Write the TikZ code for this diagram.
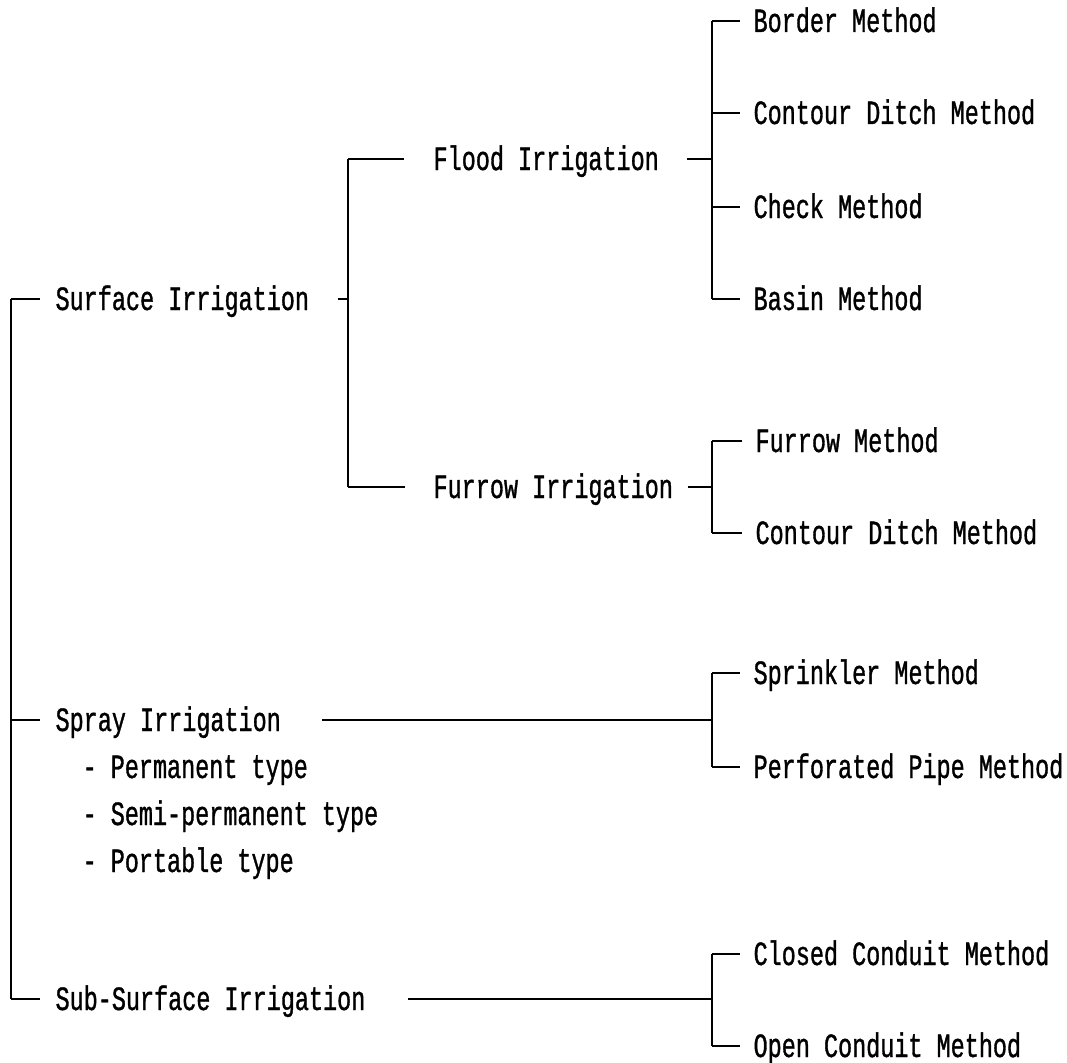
\documentclass[tikz,border=0pt]{standalone}
\usepackage{fontspec}
\newfontfamily\twfamily[FakeStretch=0.69, FakeBold=1]{Liberation Mono}
\newcommand\twfont{\twfamily\fontsize{34}{34}\selectfont}
\begin{document}
\begin{tikzpicture}[x=1pt, y=-1pt, line width=1.2pt,
  lbl/.style={anchor=west, inner sep=0pt, font=\twfont, text height=22pt, text depth=0pt}]
\useasboundingbox (0,0) rectangle (1067,1062);

% x positions of the three bracket levels
\coordinate (xR) at (11,0);
\coordinate (xA) at (348,0);
\coordinate (xB) at (712,0);

% first level
\node[lbl] (surf)  at (55,299)  {Surface Irrigation};
\node[lbl] (spray) at (55,720)  {Spray Irrigation};
\node[lbl] (sub)   at (55,999)  {Sub-Surface Irrigation};

% spray sub-types
\node[lbl] (perm) at (82,767) {- Permanent type};
\node[lbl] (semi) at (82,814) {- Semi-permanent type};
\node[lbl] (port) at (82,861) {- Portable type};

% second level
\node[lbl] (flood)  at (433,159) {Flood Irrigation};
\node[lbl] (furrow) at (433,487) {Furrow Irrigation};

% methods
\node[lbl] (border) at (753,21)  {Border Method};
\node[lbl] (cda)    at (753,113) {Contour Ditch Method};
\node[lbl] (check)  at (753,207) {Check Method};
\node[lbl] (basin)  at (753,299) {Basin Method};
\node[lbl] (fm)     at (755,441) {Furrow Method};
\node[lbl] (cdb)    at (755,533) {Contour Ditch Method};
\node[lbl] (sprink) at (753,673) {Sprinkler Method};
\node[lbl] (perf)   at (753,767) {Perforated Pipe Method};
\node[lbl] (closed) at (753,954) {Closed Conduit Method};
\node[lbl] (open)   at (753,1046) {Open Conduit Method};

% root bracket
\draw (surf.west -| xR) -- (sub.west -| xR);
\foreach \n in {surf,spray,sub}
  \draw (\n.west -| xR) -- ([xshift=-15pt]\n.west);

% surface irrigation bracket
\draw ([xshift=28pt]surf.east) -- (surf.east -| xA);
\draw (flood.west -| xA) -- (furrow.west -| xA);
\draw (flood.west -| xA) -- ([xshift=-29pt]flood.west);
\draw (furrow.west -| xA) -- ([xshift=-28pt]furrow.west);

% connectors into the method brackets
\draw ([xshift=28pt]flood.east) -- (flood.east -| xB);
\draw ([xshift=14pt]furrow.east) -- (furrow.east -| xB);
\draw ([xshift=41pt]spray.east) -- (spray.east -| xB);
\draw ([xshift=42pt]sub.east) -- (sub.east -| xB);

% method brackets
\draw (border.west -| xB) -- (basin.west -| xB);
\draw (fm.west -| xB) -- (cdb.west -| xB);
\draw (sprink.west -| xB) -- (perf.west -| xB);
\draw (closed.west -| xB) -- (open.west -| xB);
\foreach \n in {border,cda,check,basin,fm,cdb,sprink,perf,closed,open}
  \draw (\n.west -| xB) -- ([xshift=-13pt]\n.west);
\end{tikzpicture}
\end{document}
